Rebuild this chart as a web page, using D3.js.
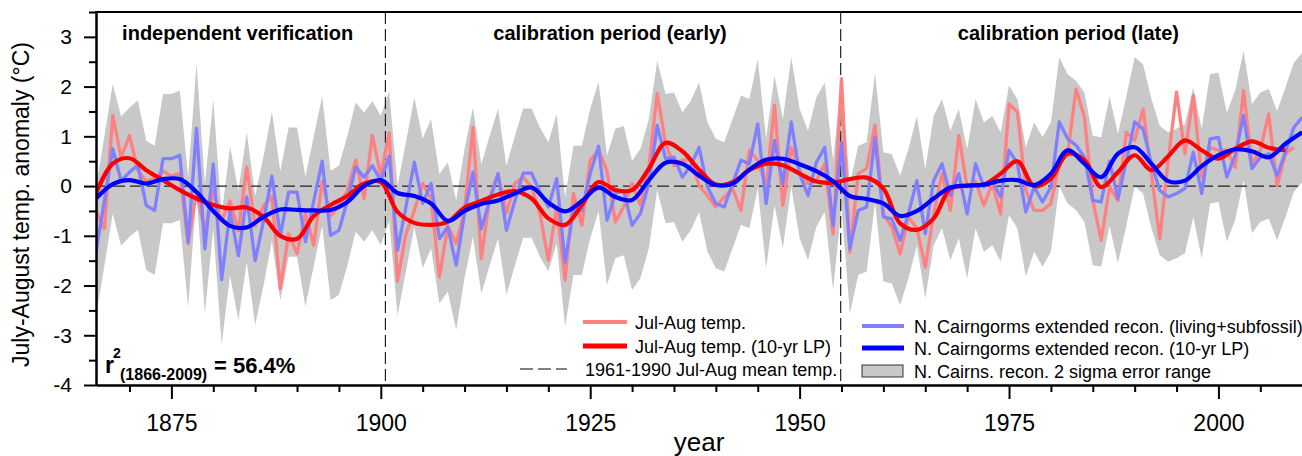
<!DOCTYPE html>
<html>
<head>
<meta charset="utf-8">
<script src="https://cdn.jsdelivr.net/npm/d3@7"></script>
<style>
  body { margin: 0; background: #fff; }
  svg { display: block; font-family: "Liberation Sans", Arial, sans-serif; }
</style>
</head>
<body>
<svg id="chart" width="1302" height="456"></svg>
<script>
// ---- data ----
var firstYear = 1866;

// Jul-Aug temperature anomaly, 1866-2009
var tempVals = [
  -0.5, -0.86, 1.42, 0.58, 1.02, 0.31, 0.1, 0.15, 0.3, 0.2,
  0.25, -1.16, -0.12, -0.9, -0.1, -0.7, -0.3, -0.9, 0.38, -0.8,
  -0.4, -0.2, -2.06, -0.96, -1.36, -0.55, -1.19, 0.1, -0.6, -0.4,
  -0.1, 0.52, -0.25, 1.02, 0.21, 1.07, -1.91, -0.96, -0.49, 0.05,
  -0.25, -1.83, -0.8, -1.15, -0.5, 1.18, -1.46, -0.22, 0.25, -0.55,
  0.05, 0.18, -0.02, -0.55, -1.49, -0.42, -1.89, -0.15, -0.79, 0.52,
  0.72, 0.31, -0.72, -0.42, 0.05, -0.39, 0.38, 1.86, 0.85, 0.41,
  0.52, 0.52, 0.01, -0.19, -0.42, -0.22, -0.05, -0.49, 0.72, 0.52,
  -0.02, 1.62, -0.39, 0.78, 0.31, 0.05, 0.11, 0.45, -0.96, 2.16,
  -1.33, 0.25, 0.35, 1.22, -0.56, -0.82, -1.36, -0.62, -0.85, -1.63,
  -0.56, 0.25, -0.49, 1.02, -0.02, 0.1, -0.39, 0.05, -0.56, 1.65,
  1.49, -0.09, -0.49, -0.49, -0.35, 0.45, 0.65, 1.95, 1.39, -0.29,
  -1.09, -0.02, -0.29, 1.08, 0.92, 1.55, 0.25, -1.06, 0.52, 1.89,
  0.65, 1.82, 0.18, 0.78, 0.72, 0.72, 0.38, 1.92, 0.45, 0.72,
  1.45, 0.01, 0.65, 0.78
];

// N. Cairngorms extended reconstruction, 1866-2010
var reconVals = [
  -1.33, -0.3, 0.75, 0.1, 0.28, 0.42, -0.39, -0.49, 0.55, 0.55,
  0.62, -1.13, 1.16, -1.26, 0.44, -1.88, -0.5, -1.4, -0.22, -1.5,
  -0.7, 0.2, -1.0, -0.12, -0.12, -1.12, -0.3, 0.5, -0.99, -0.89,
  -0.3, 0.38, 0.18, 0.41, 0.11, 0.6, -1.29, -0.42, 0.48, -0.35,
  0.05, -1.06, -0.82, -1.59, -0.55, 0.28, -0.86, -0.29, 0.25, -0.89,
  -0.3, 0.26, 0.26, -0.12, -0.42, 0.15, -1.53, -0.49, -0.49, 0.25,
  0.8, -0.69, -0.15, -0.09, -0.79, -0.55, 0.05, 1.22, 0.55, 0.58,
  0.18, 0.41, 0.78, -0.02, -0.35, -0.42, 0.05, 0.52, 0.45, 1.25,
  -0.35, 0.92, 0.05, 1.29, 0.25, -0.19, 0.48, 0.78, -0.79, 0.88,
  -1.26, -0.49, -0.42, 0.97, -0.62, -0.66, -1.09, -0.55, 0.11, -0.96,
  0.11, 0.45, -0.19, 0.25, -0.56, 0.45, -0.02, 0.11, -0.22, 0.72,
  0.45, -0.52, -0.02, -0.32, -0.02, 1.29, 0.95, 0.82, 0.58, -0.29,
  -0.32, 0.5, -0.25, 0.5, 1.29, 1.15, 0.45, -0.09, -0.22, -0.15,
  -0.05, 0.68, -0.15, 0.95, 0.98, 0.18, 0.62, 1.42, 0.35, 0.58,
  0.65, 0.21, 0.68, 1.18, 1.38
];

// 2 sigma error range of the reconstruction, 1866-2010
var bandHi = [
  -0.03, 1.0, 2.05, 1.4, 1.58, 1.72, 0.91, 0.81, 1.85, 1.85,
  1.92, 0.17, 2.46, 0.04, 1.74, -0.58, 0.8, -0.1, 1.08, -0.2,
  0.6, 1.5, 0.3, 1.18, 1.18, 0.18, 1.0, 1.8, 0.31, 0.41,
  1.0, 1.68, 1.48, 1.71, 1.41, 1.9, 0.01, 0.88, 1.78, 0.95,
  1.35, 0.24, 0.48, -0.29, 0.75, 1.58, 0.44, 1.01, 1.55, 0.41,
  1.0, 1.56, 1.56, 1.18, 0.88, 1.45, -0.23, 0.81, 0.81, 1.55,
  2.1, 0.61, 1.15, 1.21, 0.51, 0.75, 1.35, 2.52, 1.85, 1.88,
  1.48, 1.71, 2.08, 1.28, 0.95, 0.88, 1.35, 1.82, 1.75, 2.55,
  0.95, 2.22, 1.35, 2.59, 1.55, 1.11, 1.78, 2.08, 0.51, 2.18,
  0.04, 0.81, 0.88, 2.27, 0.68, 0.64, 0.21, 0.75, 1.41, 0.34,
  1.41, 1.75, 1.11, 1.55, 0.74, 1.75, 1.28, 1.41, 1.08, 2.02,
  1.75, 0.78, 1.28, 0.98, 1.28, 2.59, 2.25, 2.12, 1.88, 1.01,
  0.98, 1.8, 1.05, 1.8, 2.59, 2.45, 1.75, 1.21, 1.08, 1.15,
  1.25, 1.98, 1.15, 2.25, 2.28, 1.48, 1.92, 2.72, 1.65, 1.88,
  1.95, 1.51, 1.98, 2.48, 2.68
];
var bandLo = [
  -2.63, -1.6, -0.55, -1.2, -1.02, -0.88, -1.69, -1.79, -0.75, -0.75,
  -0.68, -2.43, -0.14, -2.56, -0.86, -3.18, -1.8, -2.7, -1.52, -2.8,
  -2.0, -1.1, -2.3, -1.42, -1.42, -2.42, -1.6, -0.8, -2.29, -2.19,
  -1.6, -0.92, -1.12, -0.89, -1.19, -0.7, -2.59, -1.72, -0.82, -1.65,
  -1.25, -2.36, -2.12, -2.89, -1.85, -1.02, -2.16, -1.59, -1.05, -2.19,
  -1.6, -1.04, -1.04, -1.42, -1.72, -1.15, -2.83, -1.79, -1.79, -1.05,
  -0.5, -1.99, -1.45, -1.39, -2.09, -1.85, -1.25, -0.08, -0.75, -0.72,
  -1.12, -0.89, -0.52, -1.32, -1.65, -1.72, -1.25, -0.78, -0.85, -0.05,
  -1.65, -0.38, -1.25, -0.01, -1.05, -1.49, -0.82, -0.52, -2.09, -0.42,
  -2.56, -1.79, -1.72, -0.33, -1.92, -1.96, -2.39, -1.85, -1.19, -2.26,
  -1.19, -0.85, -1.49, -1.05, -1.86, -0.85, -1.32, -1.19, -1.52, -0.58,
  -0.85, -1.82, -1.32, -1.62, -1.32, -0.01, -0.35, -0.48, -0.72, -1.59,
  -1.62, -0.8, -1.55, -0.8, -0.01, -0.15, -0.85, -1.39, -1.52, -1.45,
  -1.35, -0.62, -1.45, -0.35, -0.32, -1.12, -0.68, 0.12, -0.95, -0.72,
  -0.65, -1.09, -0.62, -0.12, 0.08
];

// 10-yr low pass curves, read every second year 1866-2010
var lpYears = d3.range(1866, 2011, 2);
var tempLP = [
  -0.15, 0.45, 0.56, 0.32, 0.12, -0.08, -0.25, -0.38, -0.45, -0.43,
  -0.62, -1.0, -1.06, -0.6, -0.38, -0.2, 0.05, 0.08, -0.52, -0.74,
  -0.78, -0.72, -0.43, -0.3, -0.17, -0.1, -0.25, -0.65, -0.78, -0.38,
  0.08, -0.08, -0.08, 0.35, 0.87, 0.7, 0.33, 0.03, 0.08, 0.32,
  0.45, 0.42, 0.25, 0.09, 0.07, 0.14, 0.17, -0.05, -0.75, -0.88,
  -0.65, -0.05, 0.01, 0.03, 0.25, 0.5, 0.0, 0.15, 0.65, 0.52,
  -0.02, 0.28, 0.62, 0.32, 0.6, 0.92, 0.72, 0.55, 0.75, 0.9,
  0.77, 0.72, null
];
var reconLP = [
  -0.25, 0.04, 0.12, 0.05, 0.14, 0.14, -0.12, -0.5, -0.8, -0.83,
  -0.62, -0.47, -0.48, -0.49, -0.48, -0.32, 0.0, 0.12, -0.14, -0.2,
  -0.35, -0.7, -0.5, -0.36, -0.29, -0.15, -0.03, -0.33, -0.51, -0.3,
  -0.03, -0.22, -0.28, 0.12, 0.47, 0.45, 0.21, 0.02, 0.05, 0.33,
  0.53, 0.55, 0.44, 0.3, 0.1, -0.2, -0.26, -0.35, -0.6, -0.5,
  -0.25, -0.03, 0.01, 0.03, 0.11, 0.12, 0.02, 0.25, 0.72, 0.45,
  0.18, 0.65, 0.78, 0.45, 0.1, 0.11, 0.4, 0.62, 0.74, 0.7,
  0.58, 0.85, 1.08
];

var sectionNames = ["independent verification", "calibration period (early)", "calibration period (late)"];
var sectionBreaks = [1866, 1900.55, 1954.9, 2010];
var xMajor = [1875, 1900, 1925, 1950, 1975, 2000];
var yMajor = [-4, -3, -2, -1, 0, 1, 2, 3];

// ---- layout ----
var svg = d3.select('#chart');
var plotLeft = 96, plotRight = 1302.2, plotTop = 12, plotBottom = 385;

var x = d3.scaleLinear().domain([1866, 2010]).range([plotLeft, plotRight]);
var y = d3.scaleLinear().domain([-4, 3.5]).range([plotBottom, plotTop]);

var temp = tempVals.map(function (v, i) { return { year: firstYear + i, v: v }; });
var recon = reconVals.map(function (v, i) { return { year: firstYear + i, v: v }; });
var band = bandHi.map(function (v, i) { return { year: firstYear + i, hi: v, lo: bandLo[i] }; });
var tLP = lpYears.map(function (yr, i) { return { year: yr, v: tempLP[i] }; });
var rLP = lpYears.map(function (yr, i) { return { year: yr, v: reconLP[i] }; });

svg.append('clipPath').attr('id', 'plotClip')
  .append('rect')
  .attr('x', plotLeft).attr('y', plotTop)
  .attr('width', plotRight - plotLeft).attr('height', plotBottom - plotTop);

var plot = svg.append('g').attr('clip-path', 'url(#plotClip)');

plot.append('path')
  .datum(band)
  .attr('fill', '#c8c8c8')
  .attr('d', d3.area()
    .x(function (d) { return x(d.year); })
    .y0(function (d) { return y(d.lo); })
    .y1(function (d) { return y(d.hi); }));

// 1961-1990 mean line and period separators
plot.append('line')
  .attr('x1', plotLeft).attr('x2', plotRight)
  .attr('y1', y(0)).attr('y2', y(0))
  .attr('stroke', '#222').attr('stroke-width', 1.2)
  .attr('stroke-dasharray', '12,5');

plot.selectAll('.sep')
  .data(sectionBreaks.slice(1, 3))
  .enter()
  .append('line')
  .attr('class', 'sep')
  .attr('x1', function (d) { return x(d); })
  .attr('x2', function (d) { return x(d); })
  .attr('y1', plotTop).attr('y2', plotBottom)
  .attr('stroke', '#222').attr('stroke-width', 1.2)
  .attr('stroke-dasharray', '12,5');

var rawLine = d3.line()
  .x(function (d) { return x(d.year); })
  .y(function (d) { return y(d.v); });

var lpLine = d3.line()
  .defined(function (d) { return d.v !== null; })
  .curve(d3.curveCatmullRom.alpha(0.5))
  .x(function (d) { return x(d.year); })
  .y(function (d) { return y(d.v); });

plot.append('path').datum(temp)
  .attr('fill', 'none').attr('stroke', '#ff8080')
  .attr('stroke-width', 3.3).attr('stroke-linejoin', 'round')
  .attr('d', rawLine);

plot.append('path').datum(recon)
  .attr('fill', 'none').attr('stroke', '#8080ff')
  .attr('stroke-width', 3.3).attr('stroke-linejoin', 'round')
  .attr('d', rawLine);

plot.append('path').datum(tLP)
  .attr('fill', 'none').attr('stroke', '#ff0000')
  .attr('stroke-width', 4.2)
  .attr('d', lpLine);

plot.append('path').datum(rLP)
  .attr('fill', 'none').attr('stroke', '#0000ff')
  .attr('stroke-width', 4.2)
  .attr('d', lpLine);

// ---- axes ----
var minorX = d3.range(1870, 2010, 5).filter(function (d) { return xMajor.indexOf(d) < 0; });
var minorY = d3.range(-3.5, 3.6, 1);

var xAxis = svg.append('g')
  .attr('transform', 'translate(0,' + plotBottom + ')')
  .call(d3.axisBottom(x).tickValues(xMajor).tickSize(14).tickSizeOuter(0).tickPadding(16)
    .tickFormat(function (d) { return String(d); }));
xAxis.selectAll('text').attr('font-size', 23).attr('fill', '#000').attr('font-family', null);

svg.append('g')
  .attr('transform', 'translate(0,' + plotBottom + ')')
  .call(d3.axisBottom(x).tickValues(minorX).tickSize(7).tickSizeOuter(0).tickFormat(''));

var yAxis = svg.append('g')
  .attr('transform', 'translate(' + plotLeft + ',0)')
  .call(d3.axisLeft(y).tickValues(yMajor).tickSize(12).tickSizeOuter(0).tickPadding(12)
    .tickFormat(function (d) { return String(d); }));
yAxis.selectAll('text').attr('font-size', 21).attr('fill', '#000').attr('font-family', null);

svg.append('g')
  .attr('transform', 'translate(' + plotLeft + ',0)')
  .call(d3.axisLeft(y).tickValues(minorY).tickSize(7).tickSizeOuter(0).tickFormat(''));

svg.selectAll('.domain, .tick line').attr('stroke', '#000').attr('stroke-width', 2);

// top frame
svg.append('line')
  .attr('x1', plotLeft - 1).attr('x2', 1302)
  .attr('y1', plotTop).attr('y2', plotTop)
  .attr('stroke', '#000').attr('stroke-width', 2);

// axis titles
svg.append('text')
  .attr('transform', 'translate(29,' + ((plotTop + plotBottom) / 2 + 6) + ') rotate(-90)')
  .attr('text-anchor', 'middle')
  .attr('font-size', 23)
  .text('July-August temp. anomaly (°C)');

svg.append('text')
  .attr('x', (plotLeft + plotRight) / 2).attr('y', 451)
  .attr('text-anchor', 'middle')
  .attr('font-size', 26)
  .text('year');

// period labels
svg.selectAll('.section')
  .data(sectionNames)
  .enter()
  .append('text')
  .attr('class', 'section')
  .attr('x', function (d, i) { return (x(sectionBreaks[i]) + x(sectionBreaks[i + 1])) / 2 - 3; })
  .attr('y', 40)
  .attr('text-anchor', 'middle')
  .attr('font-size', 20).attr('font-weight', 'bold')
  .text(function (d) { return d; });

// r-squared note
var r2 = svg.append('g').attr('font-weight', 'bold');
r2.append('text').attr('x', 105).attr('y', 373).attr('font-size', 23).text('r');
r2.append('text').attr('x', 113).attr('y', 358).attr('font-size', 14).text('2');
r2.append('text').attr('x', 120).attr('y', 380).attr('font-size', 16).text('(1866-2009)');
r2.append('text').attr('x', 214).attr('y', 373).attr('font-size', 22).text('= 56.4%');

// ---- legend ----
var legendLeft = [
  { label: 'Jul-Aug temp.', color: '#ff8080', width: 4, dash: null, x1: 583, x2: 627, tx: 635, y: 322 },
  { label: 'Jul-Aug temp. (10-yr LP)', color: '#ff0000', width: 5, dash: null, x1: 583, x2: 627, tx: 635, y: 346 },
  { label: '1961-1990 Jul-Aug mean temp.', color: '#555', width: 1.5, dash: '13,5', x1: 520, x2: 567, tx: 585, y: 369 }
];
var legendRight = [
  { label: 'N. Cairngorms extended recon. (living+subfossil)', color: '#8080ff', width: 4, y: 326 },
  { label: 'N. Cairngorms extended recon. (10-yr LP)', color: '#0000ff', width: 5, y: 348 }
];

var lg = svg.append('g').attr('font-size', 18);
legendLeft.forEach(function (d) {
  lg.append('line')
    .attr('x1', d.x1).attr('x2', d.x2).attr('y1', d.y).attr('y2', d.y)
    .attr('stroke', d.color).attr('stroke-width', d.width)
    .attr('stroke-dasharray', d.dash);
  lg.append('text').attr('x', d.tx).attr('y', d.y + 6.5).text(d.label);
});
legendRight.forEach(function (d) {
  lg.append('line')
    .attr('x1', 862).attr('x2', 904).attr('y1', d.y).attr('y2', d.y)
    .attr('stroke', d.color).attr('stroke-width', d.width);
  lg.append('text').attr('x', 914).attr('y', d.y + 6.5).text(d.label);
});
lg.append('rect')
  .attr('x', 862).attr('y', 365).attr('width', 41).attr('height', 12)
  .attr('fill', '#c8c8c8').attr('stroke', '#333').attr('stroke-width', 1);
lg.append('text').attr('x', 914).attr('y', 377.5).text('N. Cairns. recon. 2 sigma error range');
</script>
</body>
</html>
